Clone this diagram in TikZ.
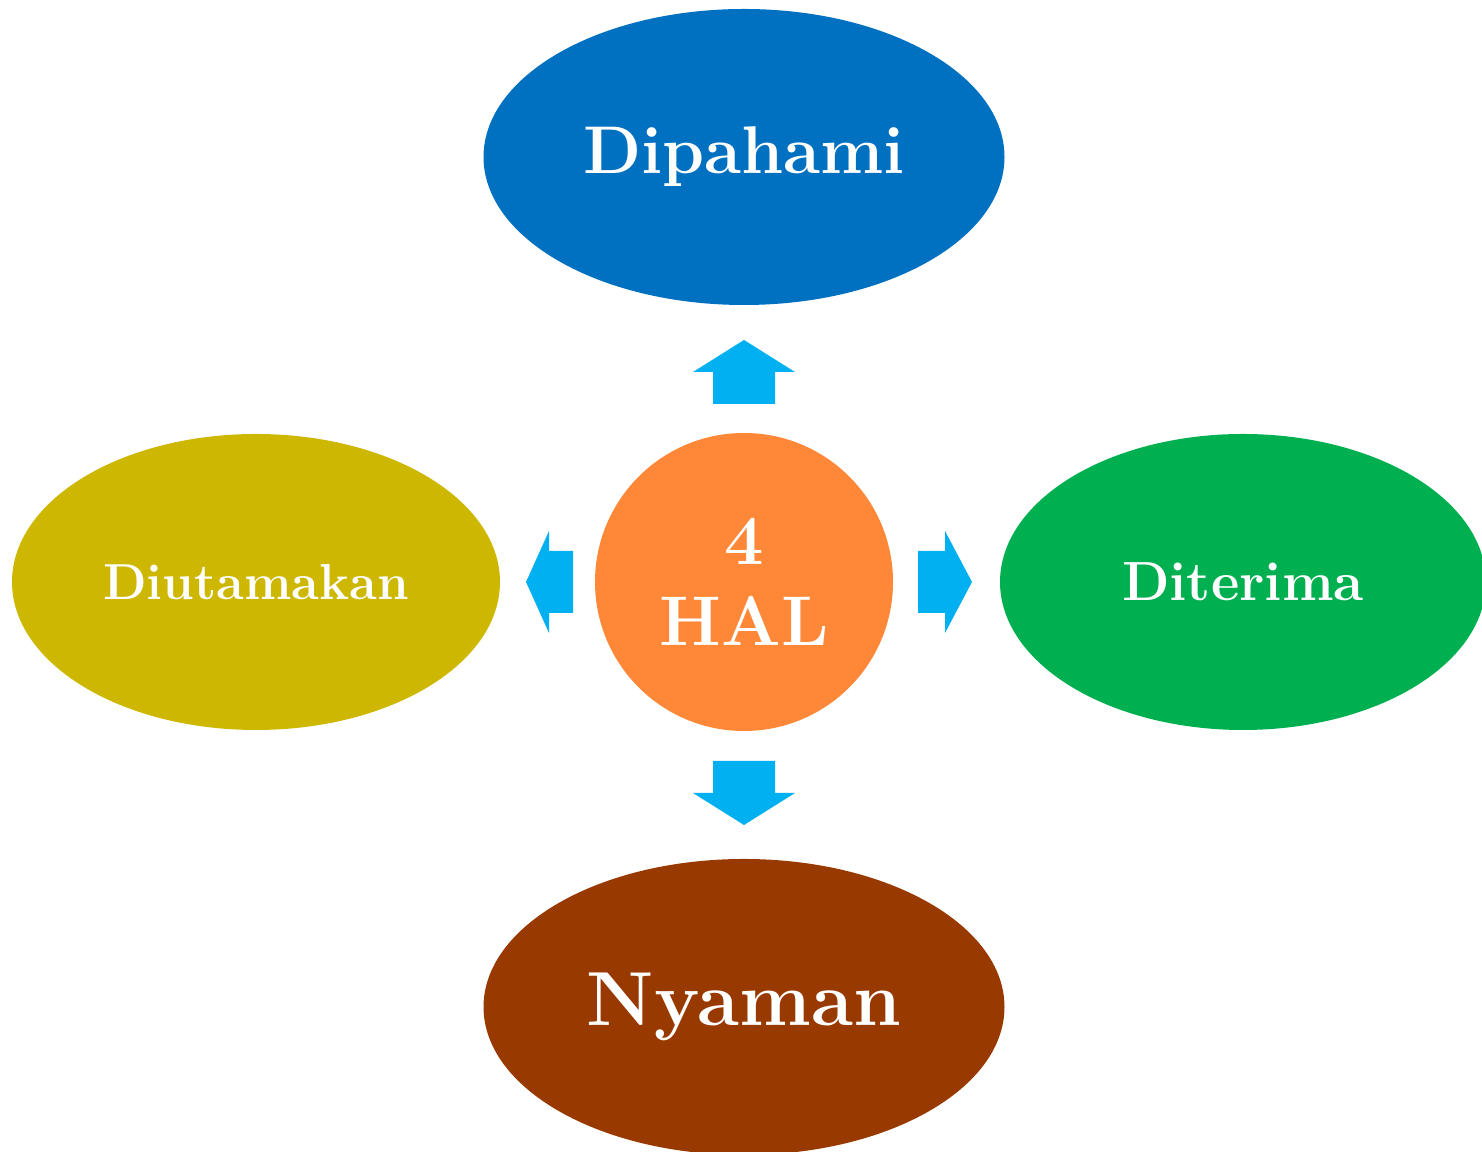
\documentclass[tikz,border=0pt]{standalone}
\usepackage{tikz}
\usetikzlibrary{shapes,shapes.geometric,positioning}
\definecolor{halorange}{HTML}{FF8838}
\definecolor{pahamblue}{HTML}{0070C0}
\definecolor{terimagreen}{HTML}{00B050}
\definecolor{utamagold}{HTML}{CDB700}
\definecolor{nyamanbrown}{HTML}{983A00}
\definecolor{arrowblue}{HTML}{00B0F0}
\tikzset{
	hub/.style = {circle, fill=halorange, draw=none, minimum size=2.98cm, inner sep=0pt, text=white, font=\bfseries\fontsize{20}{23}\selectfont, align=center},
	leaf/.style = {ellipse, draw=none, inner sep=0pt, text=white, minimum height=2.96cm},
	foot/.style = {coordinate},
	blockarrow/.style = {fill=arrowblue, draw=none}
}
\begin{document}
\begin{tikzpicture}[x=0.1mm,y=-0.1mm]
	\useasboundingbox (0,0) rectangle (1482,1152);
	% ========================== Nodes ============================
	% centre
	\node [hub] (hal) at (744,582) {4\\HAL};
	% the four ellipses
	\node [leaf, fill=pahamblue, minimum width=5.21cm, above of=hal, node distance=4.25cm, font=\bfseries\fontsize{19.2}{23}\selectfont] (paham) {Dipahami};
	\node [leaf, fill=nyamanbrown, minimum width=5.21cm, below of=hal, node distance=4.25cm, font=\bfseries\fontsize{21.8}{25}\selectfont] (nyaman) {Nyaman};
	\node [leaf, fill=terimagreen, minimum width=4.86cm, right of=hal, node distance=4.99cm, font=\bfseries\fontsize{15.7}{19}\selectfont] (terima) {Diterima};
	\node [leaf, fill=utamagold, minimum width=4.88cm, left of=hal, node distance=4.88cm, font=\bfseries\fontsize{14.4}{17}\selectfont] (utama) {Diutamakan};
	% feet of the block arrows
	\node [foot, above of=hal, node distance=1.78cm] (upfoot) {};
	\node [foot, below of=hal, node distance=1.79cm] (downfoot) {};
	\node [foot, right of=hal, node distance=1.74cm] (rightfoot) {};
	\node [foot, left of=hal, node distance=1.71cm] (leftfoot) {};
	% ======================== Block arrows =======================
	\fill [blockarrow] (upfoot) ++(-31,0) -- ++(0,-32) -- ++(-20,0) -- ++(51,-32) -- ++(51,32) -- ++(-20,0) -- ++(0,32) -- cycle;
	\fill [blockarrow] (downfoot) ++(-31,0) -- ++(0,32) -- ++(-20,0) -- ++(51,32) -- ++(51,-32) -- ++(-20,0) -- ++(0,-32) -- cycle;
	\fill [blockarrow] (rightfoot) ++(0,-31) -- ++(27,0) -- ++(0,-20) -- ++(27,51) -- ++(-27,51) -- ++(0,-20) -- ++(-27,0) -- cycle;
	\fill [blockarrow] (leftfoot) ++(0,-31) -- ++(-24,0) -- ++(0,-20) -- ++(-23,51) -- ++(23,51) -- ++(0,-20) -- ++(24,0) -- cycle;
\end{tikzpicture}
\end{document}
